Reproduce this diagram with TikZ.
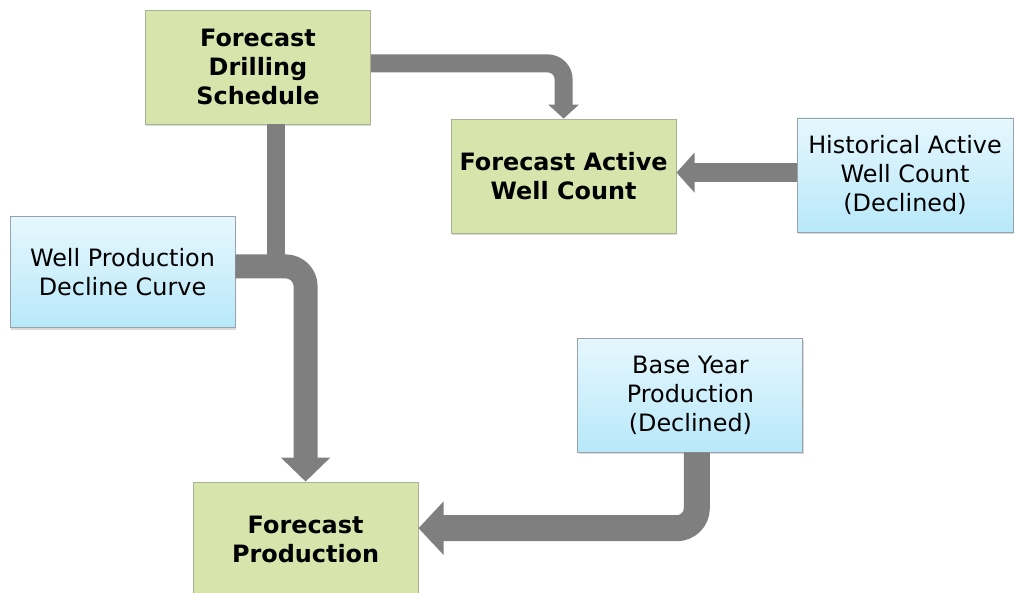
\documentclass[tikz,border=0pt]{standalone}
\usepackage{fontspec}
\setmainfont{DejaVu Sans}
\usepackage{tikz}
\usetikzlibrary{arrows.meta, positioning, shadows}

\definecolor{fcgreen}{RGB}{215,228,171}
\definecolor{fcedge}{RGB}{168,178,150}
\definecolor{intop}{RGB}{230,247,253}
\definecolor{inbot}{RGB}{184,232,250}
\definecolor{inedge}{RGB}{150,162,172}
\definecolor{flowgray}{RGB}{127,127,127}

\begin{document}
\begin{tikzpicture}[
  %% box styles
  box/.style={
    rectangle, minimum width=5.625cm, minimum height=2.85cm,
    align=center, inner sep=2pt, line width=0.6pt,
    font=\fontsize{17}{20.6}\selectfont,
    drop shadow={opacity=0.3, shadow xshift=0.6pt, shadow yshift=-1.2pt}},
  fcst/.style={box, draw=fcedge, fill=fcgreen,
    font=\fontsize{17}{20.6}\selectfont\bfseries},
  inp/.style={box, draw=inedge, top color=intop, bottom color=inbot},
  %% thick grey connectors
  flow/.style={draw=flowgray, line width=#1}
]
\useasboundingbox (0,0) rectangle (25.375,14.8);

%% ── Forecast boxes (green) ──────────────────────────────────────────────
\node[fcst] (drill)  at (6.45,13.125) {Forecast\\Drilling\\Schedule};
\node[fcst] (active) at (14.09,10.4)  {Forecast Active\\Well Count};
\node[fcst] (fprod)  at (7.64,1.325)  {Forecast\\Production};

%% ── Inputs (blue) ───────────────────────────────────────────────────────
\node[inp, minimum width=5.4cm] (hist) at (22.625,10.425)
  {Historical Active\\Well Count\\(Declined)};
\node[inp, minimum height=2.775cm] (wellprod) at (3.0625,7.99)
  {Well Production\\Decline Curve};
\node[inp] (base) at (17.26,4.925) {Base Year\\Production\\(Declined)};

%% ──────────────────────── Arrows ─────────────────────────────────────────
\coordinate (join)    at ([yshift=0.15cm]wellprod.east);
\coordinate (drop)    at ([xshift=0.45cm]drill.south);
\coordinate (histout) at ([yshift=0.06cm]hist.west);

%% drilling schedule -> active well count
\draw[flow=0.45cm, rounded corners=0.4cm, -{Triangle[width=0.75cm, length=0.35cm]}]
  ([yshift=0.09cm]drill.east) -| (active.north);

%% historical count -> active well count
\draw[flow=0.475cm, -{Triangle[width=0.975cm, length=0.45cm]}]
  (histout) -- (histout -| active.east);

%% drilling schedule + decline curve -> production
\draw[flow=0.45cm] (drop) -- (drop |- join);
\draw[flow=0.6cm, rounded corners=0.5cm, -{Triangle[width=1.2cm, length=0.6cm]}]
  (join) -| (fprod.north);

%% base year -> production
\draw[flow=0.65cm, rounded corners=0.5cm, -{Triangle[width=1.3cm, length=0.625cm]}]
  ([xshift=0.16cm]base.south) |- ([yshift=0.27cm]fprod.east);

\end{tikzpicture}
\end{document}
